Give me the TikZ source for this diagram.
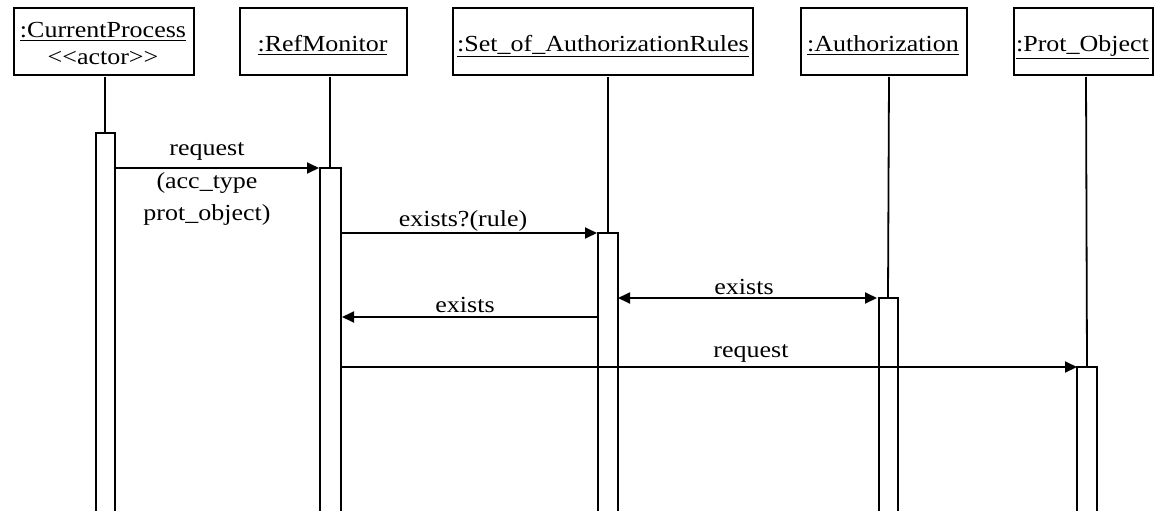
\documentclass[tikz,border=0pt]{standalone}
\usepackage{fontspec}
\setmainfont{Liberation Serif}[FakeStretch=1.13]
\usetikzlibrary{arrows.meta}
\tikzset{
  txt/.style={font=\fontsize{23}{27}\selectfont, inner sep=0pt, anchor=base},
  objbox/.style={draw, line width=1.8pt, anchor=north west, minimum height=67pt, inner sep=0pt},
  life/.style={line width=1.8pt},
  actbox/.style={draw, line width=1.8pt, fill=white},
  msg/.style={line width=1.8pt, -{Triangle[length=12pt,width=11pt]}},
  dmsg/.style={line width=1.8pt, {Triangle[length=12pt,width=11pt]}-{Triangle[length=12pt,width=11pt]}}
}
\begin{document}
\begin{tikzpicture}[x=1pt,y=-1pt]
\useasboundingbox (0,0) rectangle (1159,511);
\clip (0,0) rectangle (1159,511);
\fill[white] (0,0) rectangle (1159,511);
% object boxes
\node[objbox, minimum width=180pt] (b1) at (13,7) {};
\node[objbox, minimum width=167pt] (b2) at (239,7) {};
\node[objbox, minimum width=300pt] (b3) at (452,7) {};
\node[objbox, minimum width=166pt] (b4) at (800,7) {};
\node[objbox, minimum width=139pt] (b5) at (1013,7) {};
\node[txt] (t1a) at (103,38) {\underline{:CurrentProcess}};
\node[txt] (t1b) at (103,65) {<\kern0pt<actor>\kern0pt>};
\node[txt] (t2) at (322.5,52) {\underline{:RefMonitor}};
\node[txt] (t3) at (603,52) {\underline{:Set\_of\_AuthorizationRules}};
\node[txt] (t4) at (883,52) {\underline{:Authorization}};
\node[txt] (t5) at (1082.5,52) {\underline{:Prot\_Object}};
% lifeline tops and activation tops
\coordinate (l1) at (105,77);  \coordinate (a1) at (105,133);
\coordinate (l2) at (330,77);  \coordinate (a2) at (330,168);
\coordinate (l3) at (608,77);  \coordinate (a3) at (608,233);
\coordinate (l4) at (889,77);  \coordinate (a4) at (888,298);
\coordinate (l5) at (1086,77); \coordinate (a5) at (1087,367);
\draw[life] (l1) -- (a1);
\draw[life] (l2) -- (a2);
\draw[life] (l3) -- (a3);
\draw[life] (l4) -- (a4);
\draw[life] (l5) -- (a5);
% activations
\draw[actbox] ([xshift=-9pt]a1) rectangle ([xshift=10pt,yshift=-400pt]a1);
\draw[actbox] ([xshift=-10pt]a2) rectangle ([xshift=11pt,yshift=-400pt]a2);
\draw[actbox] ([xshift=-10pt]a3) rectangle ([xshift=10pt,yshift=-400pt]a3);
\draw[actbox] ([xshift=-9pt]a4) rectangle ([xshift=10pt,yshift=-400pt]a4);
\draw[actbox] ([xshift=-10pt]a5) rectangle ([xshift=10pt,yshift=-400pt]a5);
% message endpoints
\coordinate (m1s) at (115,168);  \coordinate (m1e) at (319,168);
\coordinate (m2s) at (341,233);  \coordinate (m2e) at (597,233);
\coordinate (m3s) at (618,298);  \coordinate (m3e) at (877,298);
\coordinate (m4s) at (598,317);  \coordinate (m4e) at (342,317);
\coordinate (m5s) at (341,367);  \coordinate (m5e) at (1077,367);
\draw[msg] (m1s) -- (m1e);
\draw[msg] (m2s) -- (m2e);
\draw[dmsg] (m3s) -- (m3e);
\draw[msg] (m4s) -- (m4e);
\draw[msg] (m5s) -- (m5e);
% labels
\node[txt] (r1a) at (207,155) {request};
\node[txt] (r1b) at (207,188) {(acc\_type};
\node[txt] (r1c) at (207,220) {prot\_object)};
\node[txt] (r2) at (463,226) {exists?(rule)};
\node[txt] (r3) at (744,294) {exists};
\node[txt] (r4) at (465,312) {exists};
\node[txt] (r5) at (751,357) {request};
\end{tikzpicture}
\end{document}
